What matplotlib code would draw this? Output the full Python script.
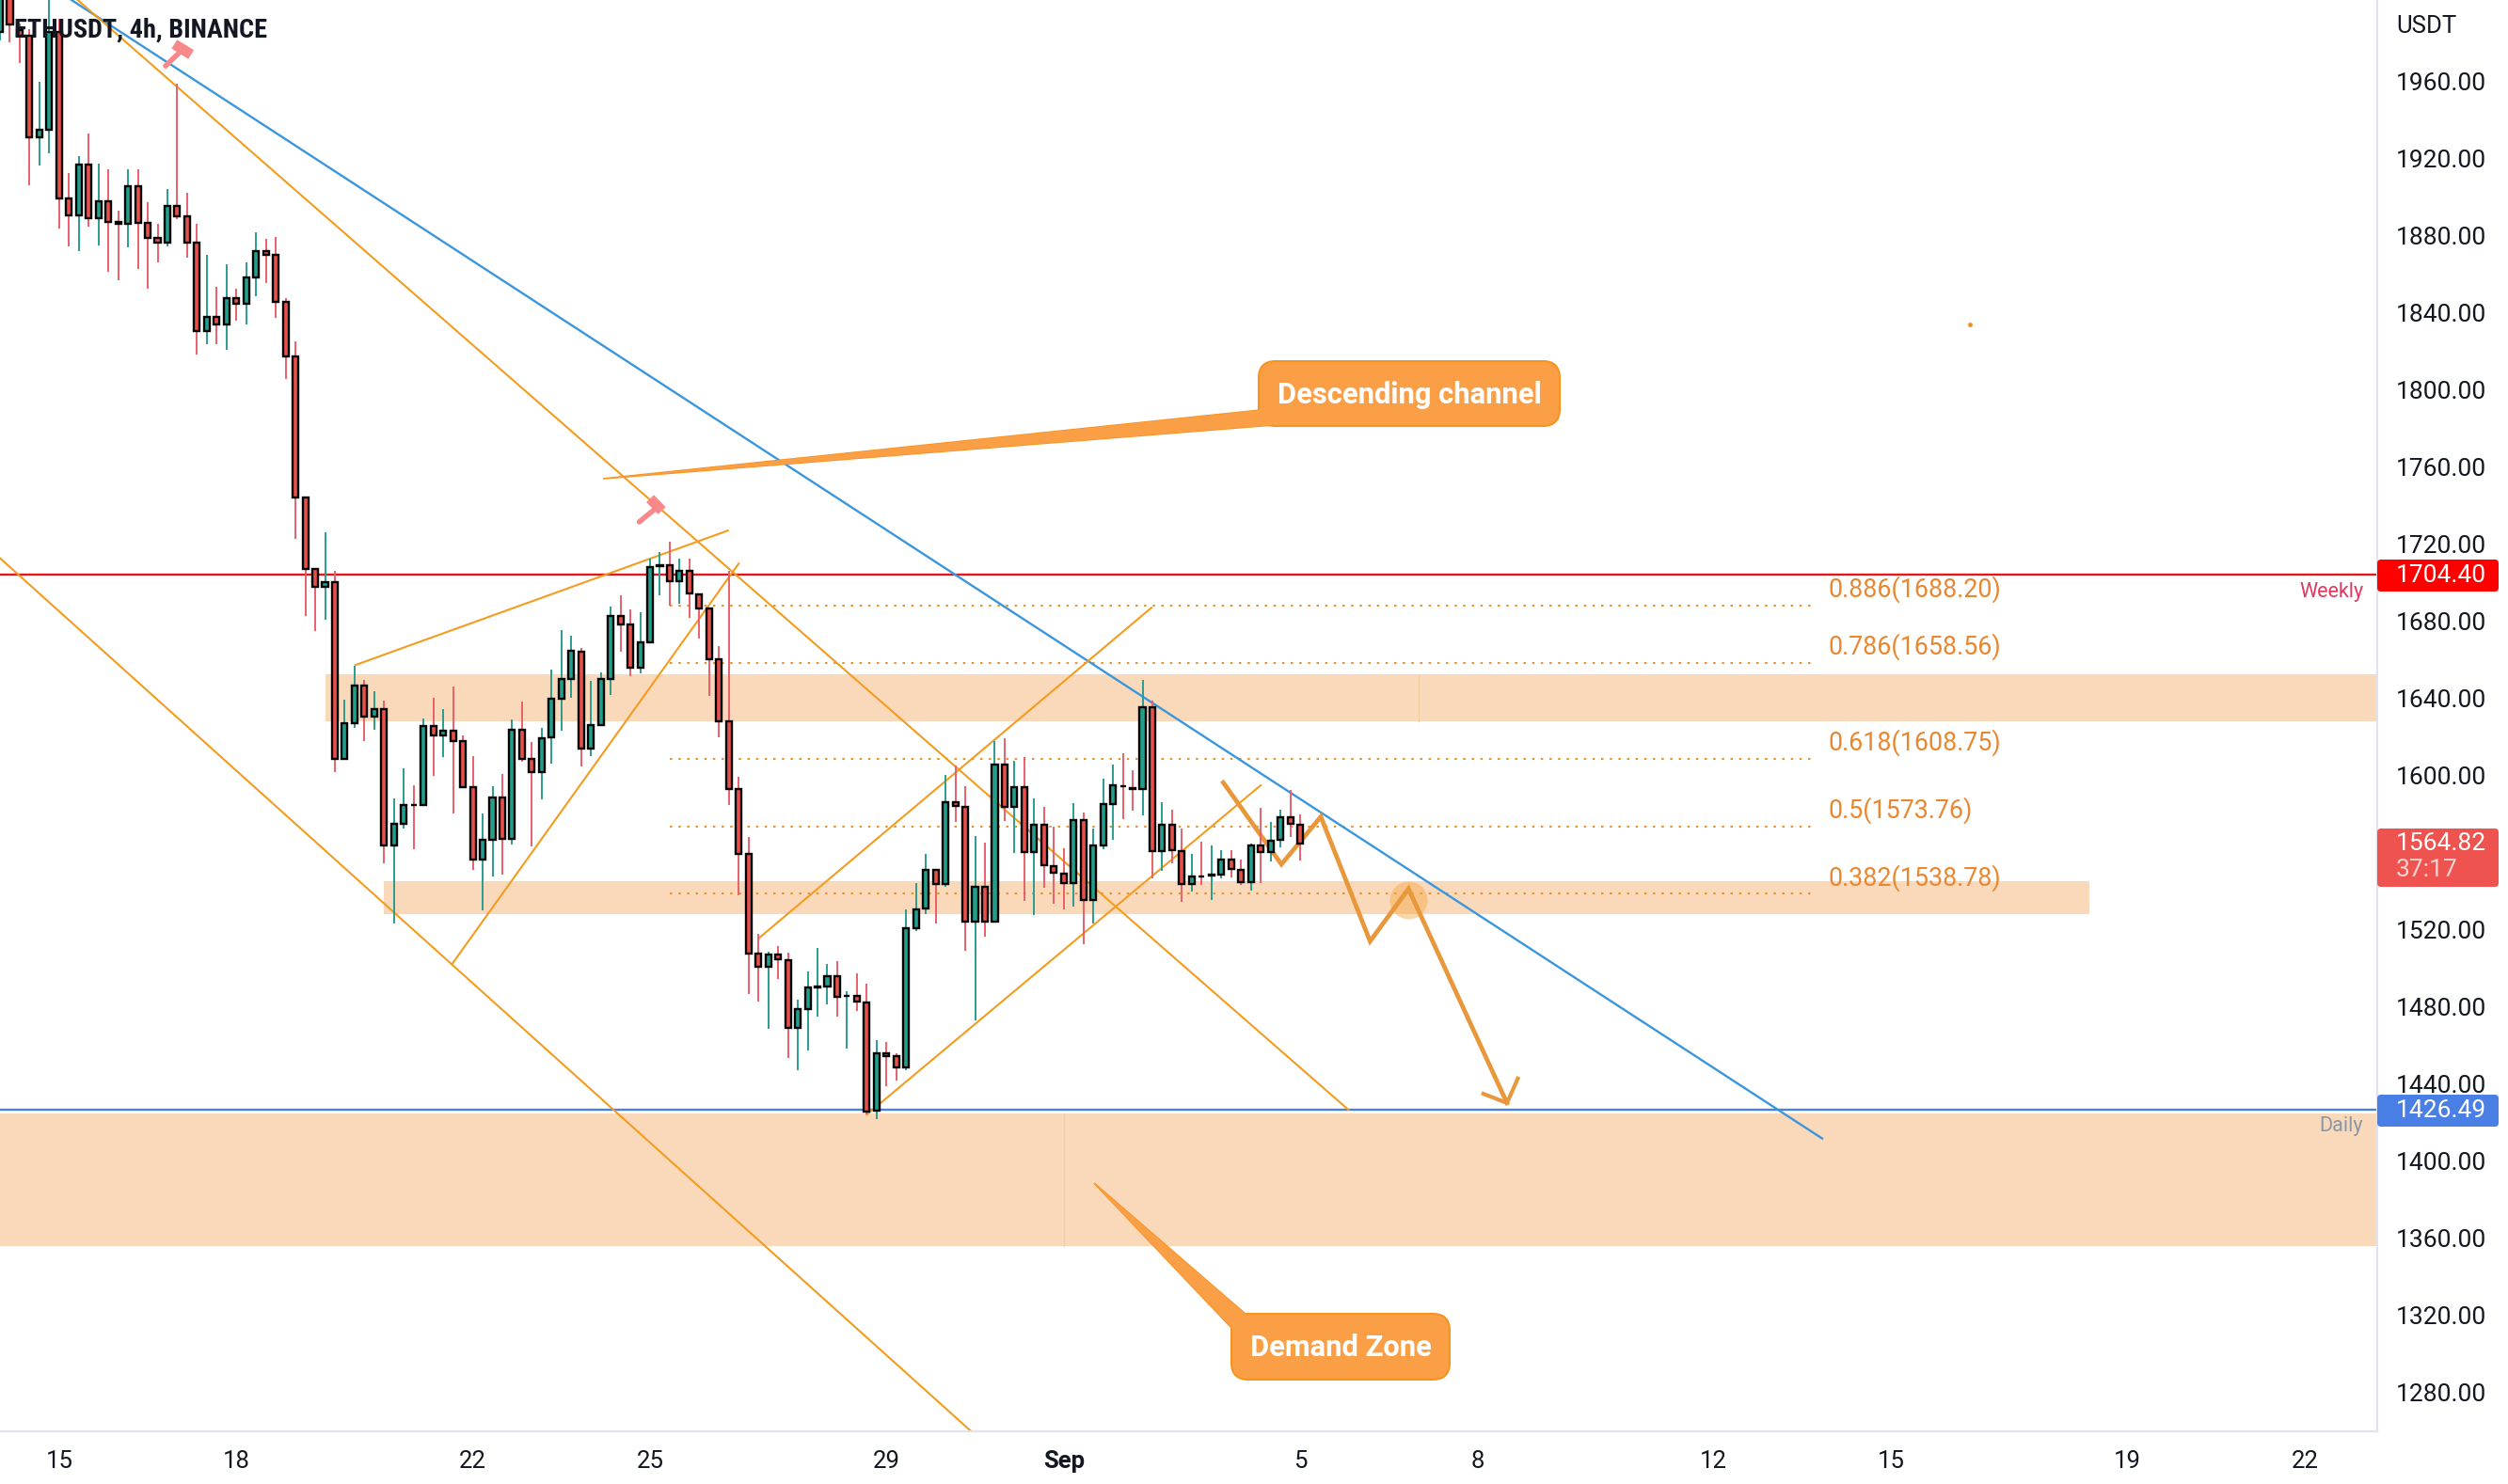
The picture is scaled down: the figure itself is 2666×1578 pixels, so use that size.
import numpy as np
import matplotlib
matplotlib.use('Agg')
import matplotlib.pyplot as plt
from matplotlib.patches import FancyBboxPatch, Polygon, Rectangle

W, H = 2666, 1578
axisRight, axisBottom = 2527, 1522
barPx = 10.47

# 4h candles
opens = [1985.6, 2010, 1986.9, 1983.6, 1931.1, 1934.8, 1985.6, 1899.2, 1890.4, 1917.1,
         1889, 1898.1, 1887.2, 1886.2, 1905.9, 1886.5, 1878.7, 1876.3, 1895.3, 1889.9,
         1876.3, 1830.4, 1837.7, 1833.8, 1847.8, 1844.6, 1858.6, 1872.2, 1869.9, 1845.6,
         1817.3, 1744.1, 1707, 1697.8, 1700.5, 1608.5, 1627, 1646.9, 1630.4, 1634.3,
         1563.6, 1575.1, 1585, 1584.9, 1625.9, 1620.7, 1623.4, 1617.8, 1594.2, 1556.3,
         1566.9, 1588.8, 1567, 1623.9, 1608.5, 1601.7, 1619.7, 1639.7, 1649.9, 1664.4,
         1614, 1626.4, 1650.3, 1683, 1678.2, 1656, 1669, 1708.7, 1709.3, 1700.7,
         1706.4, 1694.2, 1686.5, 1660.2, 1628.3, 1592.9, 1559.2, 1507.6, 1501.1, 1507.3,
         1504.4, 1469.4, 1479, 1490.3, 1490.8, 1496.1, 1485.5, 1485.7, 1482.4, 1426,
         1455.9, 1454.3, 1448.6, 1521, 1531, 1551, 1543.7, 1586.3, 1583.9, 1524.2,
         1542.4, 1524.2, 1605.8, 1584, 1594.1, 1560.3, 1574.6, 1553.2, 1549.3, 1544.1,
         1577.1, 1535.6, 1563.9, 1585.2, 1594.6, 1593.5, 1593, 1635.6, 1560.8, 1574.6,
         1560.8, 1543.7, 1547.9, 1548.2, 1548.9, 1556.4, 1551.2, 1545, 1563.9, 1560.3,
         1566.5, 1578.4, 1574.6]
closes = [2010, 1989.6, 1983.6, 1931.1, 1934.8, 1985.6, 1899.4, 1890.4, 1917.1, 1889,
          1898.1, 1887.2, 1886.2, 1905.9, 1886.5, 1878.7, 1876.3, 1895.3, 1889.9, 1876.3,
          1830.4, 1837.8, 1833.8, 1847.8, 1844.6, 1858.6, 1872.2, 1869.9, 1845.6, 1817.3,
          1744.1, 1707, 1697.8, 1700.5, 1608.5, 1627, 1646.9, 1630.4, 1634.3, 1563.6,
          1575.1, 1584.9, 1584.8, 1625.9, 1620.7, 1623.4, 1617.8, 1594.2, 1556.3, 1566.9,
          1588.8, 1567, 1623.9, 1608.5, 1601.7, 1619.4, 1639.7, 1649.9, 1664.9, 1614,
          1626.4, 1650.3, 1683, 1678.2, 1656, 1669, 1708.3, 1709, 1700.7, 1706.4,
          1694.5, 1686.5, 1660.2, 1628.3, 1592.9, 1559.2, 1507.6, 1501.1, 1507.3, 1504.7,
          1469.4, 1479, 1490.1, 1490.6, 1496.1, 1485.2, 1485.8, 1482.6, 1425.8, 1455.9,
          1454.3, 1448.6, 1521, 1530.7, 1551, 1543.7, 1586.3, 1584.1, 1524.2, 1542.4,
          1524.2, 1605.8, 1584, 1594.1, 1560.3, 1574.6, 1553.5, 1549.4, 1544.1, 1577.1,
          1535.6, 1563.9, 1585.2, 1594.9, 1594.3, 1593.2, 1635.6, 1560.8, 1574.6, 1561.3,
          1543.7, 1547.8, 1547.6, 1548.5, 1556.4, 1551.5, 1545, 1563.9, 1560.3, 1566.2,
          1578.4, 1574.9, 1564.8]
highs = [2015, 2012, 1990, 1987, 1959.7, 2015, 1992.5, 1912.5, 1921.3, 1932.9,
         1917.4, 1914.5, 1893, 1914.5, 1914.5, 1897.4, 1886.2, 1904.3, 1958.9, 1902.3,
         1886.2, 1870.3, 1853.5, 1865.2, 1852.7, 1866.2, 1881.8, 1878.4, 1879.4, 1847.8,
         1825, 1744.1, 1707.5, 1726.2, 1706, 1639.4, 1656.8, 1649.5, 1643.8, 1638.9,
         1588, 1603.6, 1595, 1629.6, 1640.2, 1634.5, 1646.2, 1621, 1610.1, 1580.4,
         1594.5, 1601, 1629.1, 1638.4, 1617.3, 1624.7, 1654.8, 1675.5, 1672.5, 1666,
         1649.1, 1653.5, 1687.7, 1693.4, 1686, 1684.7, 1712.5, 1715.8, 1721.3, 1712.5,
         1712.5, 1694.2, 1686.5, 1667, 1706, 1599.4, 1568.1, 1517.7, 1508.8, 1511.5,
         1508.4, 1483.9, 1498.2, 1510.4, 1502.3, 1503.6, 1488.4, 1497.4, 1492, 1462.8,
         1461.6, 1455.9, 1530.7, 1544.5, 1559.2, 1551.5, 1600.3, 1605.2, 1594.5, 1568.9,
         1565.2, 1617.7, 1619.3, 1607.5, 1609.4, 1588, 1584, 1573.3, 1562.3, 1585.7,
         1580.8, 1572.5, 1598.2, 1605.5, 1611.5, 1602.8, 1649.4, 1638.8, 1586, 1582.3,
         1572.7, 1559.2, 1565.7, 1563.7, 1561.3, 1561.3, 1556.4, 1564.9, 1583.1, 1575.9,
         1582.3, 1592.5, 1579.8]
lows = [1981.2, 1980.3, 1969.8, 1906, 1916.6, 1922.6, 1883.9, 1874.7, 1872.2, 1884.9,
        1875.1, 1861.2, 1856.8, 1874.2, 1863, 1852.7, 1866.4, 1874.7, 1888.5, 1868.6,
        1818.5, 1824, 1824, 1821, 1836.1, 1834.2, 1848.6, 1855.5, 1837.4, 1805.9,
        1723, 1682.8, 1675.1, 1680.7, 1602, 1608, 1624.7, 1617.7, 1623.8, 1554.6,
        1523.4, 1572.5, 1562, 1584.9, 1599.9, 1609.6, 1580.4, 1593.8, 1551.1, 1530,
        1547.8, 1548.7, 1564.1, 1607.2, 1563.3, 1587.7, 1606.4, 1623.4, 1640.5, 1604.7,
        1610.1, 1625.9, 1641.7, 1664.1, 1651.6, 1653, 1669, 1693.7, 1688.2, 1689.3,
        1682, 1671.1, 1641.3, 1619.9, 1584.8, 1538, 1486.8, 1482.8, 1468.9, 1494.6,
        1453.5, 1447.3, 1457.6, 1474.9, 1481.5, 1474.9, 1458.4, 1477.9, 1424.2, 1421.8,
        1438.8, 1441.8, 1447, 1519.3, 1528.3, 1523.4, 1542.4, 1575.9, 1509.3, 1473,
        1516.6, 1524.2, 1576.6, 1559.7, 1534.8, 1527.8, 1541.8, 1533.6, 1530.7, 1532.3,
        1512.8, 1523.4, 1561.6, 1566.8, 1577.5, 1581.9, 1579.5, 1546.5, 1550.7, 1554.3,
        1534.3, 1539.7, 1543.4, 1535.6, 1546.5, 1547, 1543.4, 1540.5, 1544.4, 1555.6,
        1562.9, 1568.1, 1556.2]

priceTicks = [1280, 1320, 1360, 1400, 1440, 1480, 1520, 1600, 1640, 1680, 1720,
              1760, 1800, 1840, 1880, 1920, 1960]
dateBars = [6, 24, 48, 66, 90, 108, 132, 150, 174, 192, 216, 234]
dateLabels = ['15', '18', '22', '25', '29', 'Sep', '5', '8', '12', '15', '19', '22']

# fib levels
fibRatios = ['0.886', '0.786', '0.618', '0.5', '0.382']
fibPrices = [1688.20, 1658.56, 1608.75, 1573.76, 1538.78]
fibStart, fibEnd = 68, 184

# horizontal levels and zones (bar from, bar to, price low, price high)
weekly = 1704.40
daily = 1426.49
lastPrice = 1564.82
zoneTop = (33, 241.4, 1628, 1652.4)
zoneMid = (39, 212.1, 1528.1, 1545.2)
zoneLow = (0, 241.4, 1356, 1424.7)
zoneTicks = [(144, 1628, 1652.4), (108, 1356, 1424.7)]

# trend lines, (bars, prices)
blueLine = ([7.26, 185], [2002.3, 1411.8])
orangeLines = [([7.89, 136.9], [2002.3, 1426.7]),
               ([0, 98.6], [1712.8, 1259.9]),
               ([36.1, 73.9], [1657.4, 1727.1]),
               ([45.9, 75], [1502.3, 1710]),
               ([77, 116.9], [1515.5, 1687.1]),
               ([88, 128], [1424.2, 1595])]
zigBars = [124.2, 130.1, 134.1, 139.1, 143, 153]
zigPrices = [1596.4, 1554, 1578.7, 1514.1, 1541.3, 1430.2]
headBars = [150.6, 153, 154.1]
headPrices = [1435, 1430.2, 1442.9]
hammers = [([16.8, 18.3], [1968.1, 1975.5], [17.7, 19.4], [1979.4, 1974]),
           ([64.9, 66.4], [1731.6, 1737.9], [66, 67.2], [1743.7, 1737.4])]

plt.rcParams['font.family'] = ['Roboto', 'DejaVu Sans']
textCol = '#131722'
orange = '#F39C1F'
upCol, downCol = '#239E8B', '#E9504B'
upWick, downWick = '#2A9D8F', '#E8606A'
zoneCol = '#FAD9BB'

fig = plt.figure(figsize=(W / 100, H / 100), dpi=100, facecolor='white')
ax = fig.add_axes([0, 1 - axisBottom / H, axisRight / W, axisBottom / H])
ax.set_xlim(0, axisRight / barPx)
ax.set_ylim(1259.9, 2002.3)

for b0, b1, p0, p1 in (zoneTop, zoneMid, zoneLow):
    ax.add_patch(Rectangle((b0, p0), b1 - b0, p1 - p0, fc=zoneCol, ec='none', zorder=1))
for b, p0, p1 in zoneTicks:
    ax.plot([b, b], [p0, p1], color='#F6CDA2', lw=1, zorder=1.2)

for r, p in zip(fibRatios, fibPrices):
    ax.plot([fibStart, fibEnd], [p, p], color='#E8932E', lw=1.5, ls=(0, (1.2, 3.2)), zorder=1.5)
    ax.annotate(f'{r}({p:.2f})', (fibEnd, p), xytext=(17, 17), textcoords='offset pixels',
                color='#E8872F', fontsize=19.4, va='center', ha='left', zorder=6)

ax.axhline(weekly, color='#E3171C', lw=1.7, zorder=2)
ax.axhline(daily, color='#4A80E0', lw=1.7, zorder=2)
ax.plot(*blueLine, color='#3A96DD', lw=1.7, zorder=2.2)
for xs, ys in orangeLines:
    ax.plot(xs, ys, color=orange, lw=1.5, zorder=2.2)

ax.scatter([zigBars[4]], [1535.4], s=830, color='#F5A742', alpha=0.45, lw=0, zorder=2.1)
ax.plot(zigBars, zigPrices, color='#E8973A', lw=3.4, solid_joinstyle='miter', zorder=2.4)
ax.plot(headBars, headPrices, color='#E8973A', lw=3, solid_joinstyle='round', zorder=2.4)
ax.scatter([200], [1834], s=12, color='#F08A20', lw=0, zorder=2.4)

for hx, hy, tx, ty in hammers:
    ax.plot(hx, hy, color='#F9888A', lw=4, solid_capstyle='round', zorder=2.5)
    ax.plot(tx, ty, color='#F9888A', lw=8, solid_capstyle='butt', zorder=2.5)

bars = np.arange(len(opens))
o, c = np.array(opens), np.array(closes)
up = c >= o
ax.vlines(bars[up], np.array(lows)[up], np.array(highs)[up], color=upWick, lw=1.4, zorder=3)
ax.vlines(bars[~up], np.array(lows)[~up], np.array(highs)[~up], color=downWick, lw=1.4, zorder=3)
ax.bar(bars, np.abs(c - o), bottom=np.minimum(o, c), width=0.58,
       color=[upCol if u else downCol for u in up], edgecolor='black', linewidth=1.7, zorder=3.2)

ax.set_yticks(priceTicks)
ax.set_yticklabels([f'{p:.2f}' for p in priceTicks])
ax.yaxis.tick_right()
ax.set_xticks(dateBars)
ax.set_xticklabels(dateLabels)
ax.tick_params(axis='y', length=0, pad=14, labelsize=19, labelcolor=textCol)
ax.tick_params(axis='x', length=0, pad=14.5, labelsize=18.5, labelcolor=textCol)
for lab in ax.get_xticklabels():
    if lab.get_text() == 'Sep':
        lab.set_fontweight('bold')
for s in ['top', 'left']:
    ax.spines[s].set_visible(False)
for s in ['right', 'bottom']:
    ax.spines[s].set_color('#E0E3EB')
    ax.spines[s].set_linewidth(1.6)

# overlay in picture pixels for the labels and callouts
ov = fig.add_axes([0, 0, 1, 1], facecolor='none')
ov.set_xlim(0, W)
ov.set_ylim(H, 0)
ov.axis('off')

ov.text(15, 32, 'ETHUSDT, 4h, BINANCE', color=textCol, fontsize=20.3, fontweight='bold',
        family=['Roboto Condensed', 'Roboto', 'DejaVu Sans'], va='center', ha='left')
ov.text(2547, 28, 'USDT', color=textCol, fontsize=18.5, va='center', ha='left')
ov.text(2512, 629, 'Weekly', color='#E2375F', fontsize=15.5, va='center', ha='right')
ov.text(2512, 1198, 'Daily', color='#8A97A6', fontsize=15.5, va='center', ha='right')


def priceBox(top, bottom, col, lines):
    ov.add_patch(FancyBboxPatch((2527, top), 129, bottom - top, boxstyle='round,pad=0,rounding_size=4',
                                fc=col, ec='none', zorder=5))
    for y, txt, tc in lines:
        ov.text(2547, y, txt, color=tc, fontsize=19, va='center', ha='left', zorder=6)


priceBox(595, 629, '#FF0000', [(612, f'{weekly:.2f}', 'white')])
priceBox(881, 943, '#EF5350', [(897, f'{lastPrice:.2f}', 'white'), (925, '37:17', '#FBD5D3')])
priceBox(1164, 1198, '#4A80E6', [(1181, f'{daily:.2f}', 'white')])


def callout(x0, y0, x1, y1, tip, base, text):
    edge, fill = '#F7931E', '#FB9F47'
    ov.add_patch(Polygon([tip, base[0], base[1]], closed=True, fc=fill, ec=edge, lw=1.2, zorder=4))
    ov.add_patch(FancyBboxPatch((x0, y0), x1 - x0, y1 - y0, boxstyle='round,pad=0,rounding_size=18',
                                fc=fill, ec=edge, lw=1.5, zorder=4.1))
    ov.add_patch(Polygon([tip, base[0], base[1]], closed=True, fc=fill, ec='none', zorder=4.2))
    ov.text((x0 + x1) / 2, (y0 + y1) / 2 + 1, text, color='white', fontsize=22.2, fontweight='bold',
            va='center', ha='center', zorder=5)


callout(1338, 384, 1658, 453, (641, 509), [(1340, 436), (1353, 452)], 'Descending channel')
callout(1309, 1397, 1541, 1467, (1163, 1258), [(1326, 1399), (1311, 1414)], 'Demand Zone')

fig.savefig('out.png', dpi=100, facecolor='white')
